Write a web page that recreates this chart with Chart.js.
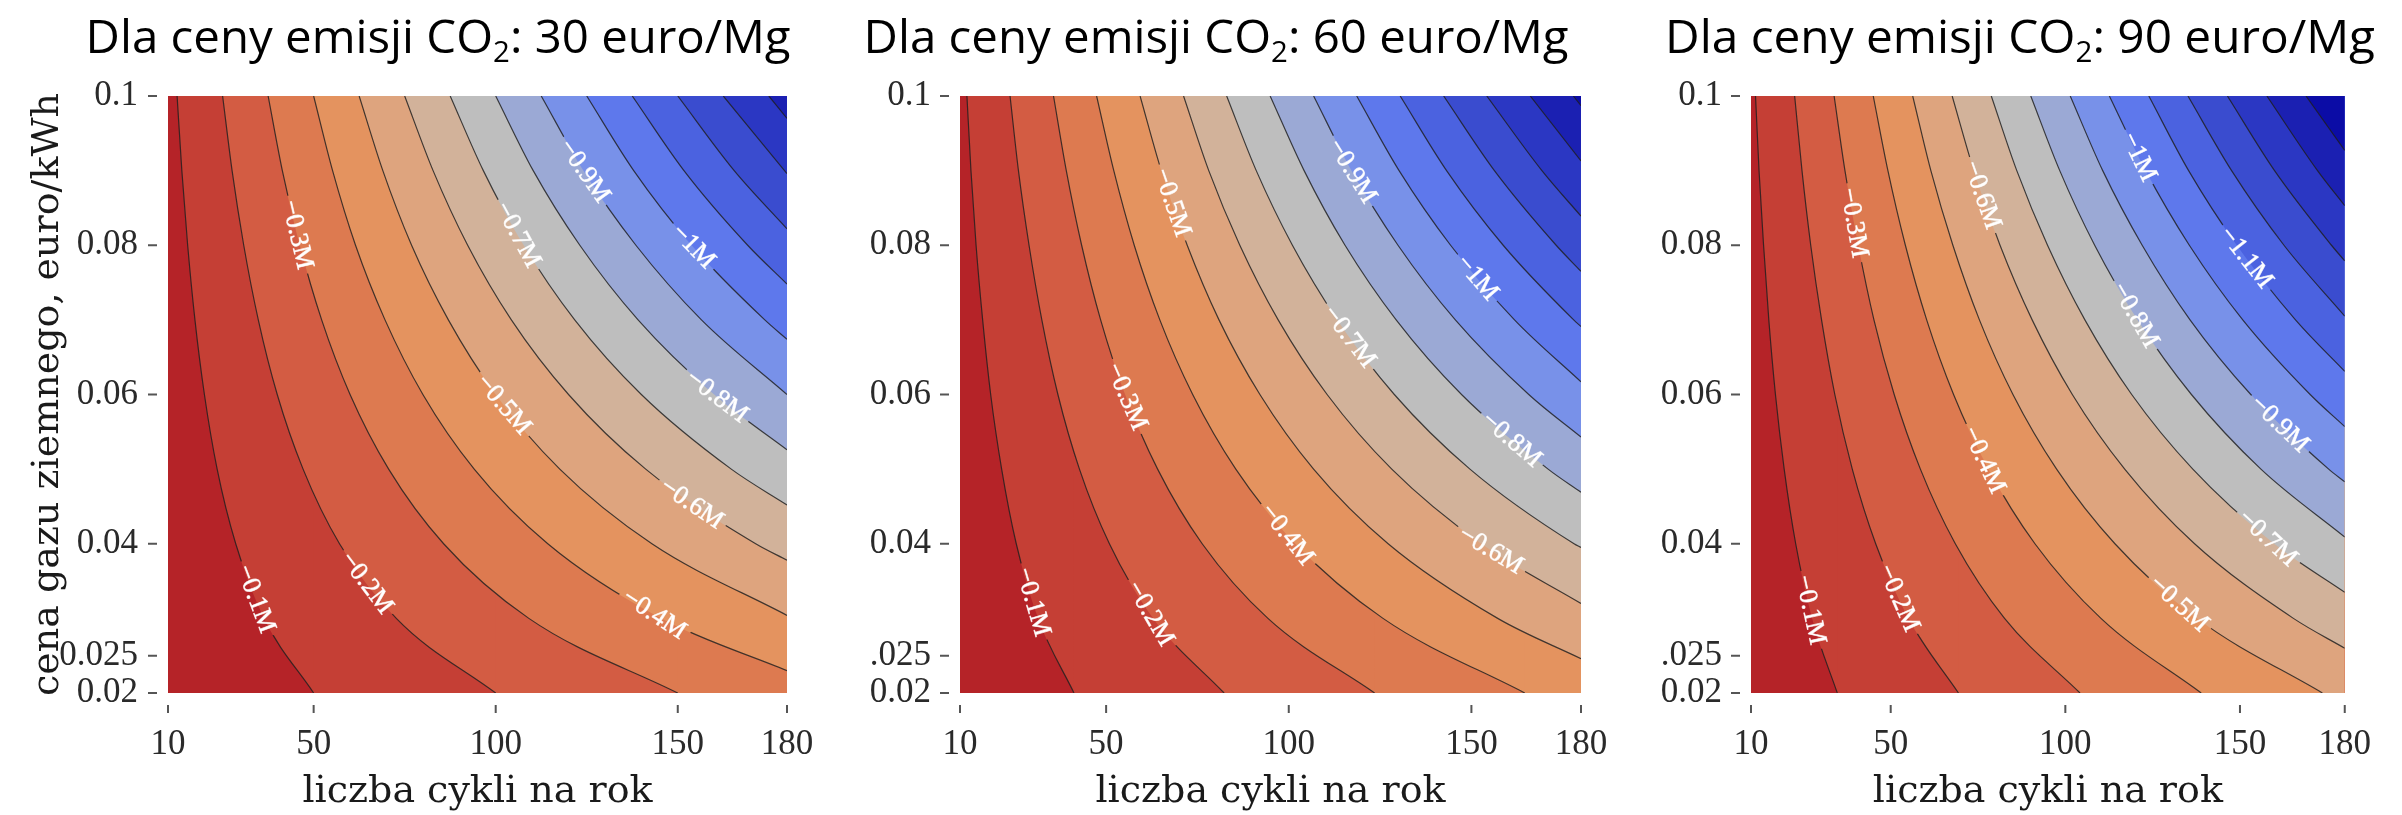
<!DOCTYPE html>
<html>
<head>
<meta charset="utf-8">
<script src="https://cdn.jsdelivr.net/npm/chart.js@4.4.1/dist/chart.umd.min.js"></script>
<style>
  html, body { margin: 0; padding: 0; background: #fff; }
  body { width: 2402px; height: 815px; position: relative; overflow: hidden; }
  canvas { position: absolute; top: 0; }
  .title {
    position: absolute; top: 12px; left: 0;
    font-family: 'Open Sans', sans-serif; font-size: 46px; line-height: 46px;
    color: #000; white-space: nowrap; transform-origin: 50% 0;
  }
  .title sub { font-size: 0.62em; vertical-align: -0.32em; line-height: 0; }
</style>
</head>
<body>
<canvas id="c30" width="869" height="815" style="left:0px"></canvas>
<canvas id="c60" width="792" height="815" style="left:869px"></canvas>
<canvas id="c90" width="741" height="815" style="left:1661px"></canvas>
<div class="title" id="t30">Dla ceny emisji CO<sub>2</sub>: 30 euro/Mg</div>
<div class="title" id="t60">Dla ceny emisji CO<sub>2</sub>: 60 euro/Mg</div>
<div class="title" id="t90">Dla ceny emisji CO<sub>2</sub>: 90 euro/Mg</div>

<script>
// axes
const xTicks = [10, 50, 100, 150, 180];
const yTicks = [0.1, 0.08, 0.06, 0.04, 0.025, 0.02];
const yTickLabels = ['0.1', '0.08', '0.06', '0.04', '0.025', '0.02'];

// gas price rows where the contour crossings were read
const priceRows = [0.1, 0.09, 0.08, 0.07, 0.06, 0.05, 0.04, 0.03, 0.02];

// contour levels (million euro), one line per level
const levels = [-0.1, -0.2, -0.3, -0.4, -0.5, -0.6, -0.7, -0.8, -0.9, -1.0, -1.1, -1.2, -1.3, -1.4, -1.5];

// CO2 30 euro/Mg: cycles where each contour crosses each price row (null = outside)
const cycles30 = [
  [12.5, 13.8, 15.4, 17.4, 20.0, 23.5, 28.6, 36.4, 50.0],
  [25.0, 27.6, 30.8, 34.8, 40.0, 47.1, 57.1, 72.7, 100.0],
  [37.5, 41.4, 46.2, 52.2, 60.0, 70.6, 85.7, 109.1, 150.0],
  [50.0, 55.2, 61.5, 69.6, 80.0, 94.1, 114.3, 145.5, null],
  [62.5, 69.0, 76.9, 87.0, 100.0, 117.6, 142.9, null, null],
  [75.0, 82.8, 92.3, 104.3, 120.0, 141.2, 171.4, null, null],
  [87.5, 96.6, 107.7, 121.7, 140.0, 164.7, null, null, null],
  [100.0, 110.3, 123.1, 139.1, 160.0, null, null, null, null],
  [112.5, 124.1, 138.5, 156.5, null, null, null, null, null],
  [125.0, 137.9, 153.8, 173.9, null, null, null, null, null],
  [137.5, 151.7, 169.2, null, null, null, null, null, null],
  [150.0, 165.5, null, null, null, null, null, null, null],
  [162.5, null, null, null, null, null, null, null, null],
  [175.0, null, null, null, null, null, null, null, null]
];
// gas price where the contour leaves through the right edge (180 cycles)
const edge30 = [null, null, null, 0.0230, 0.0304, 0.0378, 0.0452, 0.0526, 0.0600, 0.0674, 0.0748, 0.0822, 0.0896, 0.0970];

// CO2 60 euro/Mg
const cycles60 = [
  [11.9, 13.0, 14.4, 16.2, 18.4, 21.4, 25.4, 31.4, 41.2],
  [23.7, 26.0, 28.9, 32.4, 36.8, 42.7, 50.9, 62.9, 82.3],
  [35.6, 39.1, 43.3, 48.5, 55.2, 64.1, 76.3, 94.3, 123.5],
  [47.4, 52.1, 57.7, 64.7, 73.7, 85.5, 101.8, 125.8, 164.6],
  [59.3, 65.1, 72.2, 80.9, 92.1, 106.8, 127.2, 157.2, null],
  [71.2, 78.1, 86.6, 97.1, 110.5, 128.2, 152.7, null, null],
  [83.0, 91.1, 101.0, 113.3, 128.9, 149.6, 178.1, null, null],
  [94.9, 104.2, 115.4, 129.4, 147.3, 171.0, null, null, null],
  [106.8, 117.2, 129.9, 145.6, 165.7, null, null, null, null],
  [118.6, 130.2, 144.3, 161.8, null, null, null, null, null],
  [130.5, 143.2, 158.7, 178.0, null, null, null, null, null],
  [142.4, 156.3, 173.2, null, null, null, null, null, null],
  [154.2, 169.3, null, null, null, null, null, null, null],
  [166.1, null, null, null, null, null, null, null, null],
  [177.9, null, null, null, null, null, null, null, null]
];
const edge60 = [null, null, null, null, 0.0246, 0.0320, 0.0395, 0.0469, 0.0543, 0.0617, 0.0691, 0.0765, 0.0839, 0.0913, 0.0987];

// CO2 90 euro/Mg
const cycles90 = [
  [11.3, 12.3, 13.6, 15.1, 17.0, 19.5, 22.8, 27.5, 34.7],
  [22.5, 24.6, 27.1, 30.2, 34.0, 39.0, 45.7, 55.1, 69.4],
  [33.8, 36.9, 40.7, 45.2, 51.0, 58.5, 68.5, 82.6, 104.2],
  [45.0, 49.2, 54.2, 60.3, 68.0, 78.0, 91.3, 110.2, 138.9],
  [56.3, 61.5, 67.8, 75.4, 85.0, 97.5, 114.2, 137.7, 173.6],
  [67.6, 73.8, 81.3, 90.5, 102.0, 117.0, 137.0, 165.3, null],
  [78.8, 86.1, 94.9, 105.6, 119.0, 136.5, 159.8, null, null],
  [90.1, 98.4, 108.4, 120.7, 136.1, 156.0, null, null, null],
  [101.4, 110.7, 122.0, 135.7, 153.1, 175.4, null, null, null],
  [112.6, 123.0, 135.5, 150.8, 170.1, null, null, null, null],
  [123.9, 135.3, 149.1, 165.9, null, null, null, null, null],
  [135.1, 147.6, 162.6, null, null, null, null, null, null],
  [146.4, 159.9, 176.2, null, null, null, null, null, null],
  [157.7, 172.2, null, null, null, null, null, null, null],
  [168.9, null, null, null, null, null, null, null, null]
];
const edge90 = [null, null, null, null, null, 0.0260, 0.0335, 0.0409, 0.0483, 0.0557, 0.0631, 0.0705, 0.0779, 0.0853, 0.0927];

// inline contour labels: text, position (cycles, price); label i sits on contour i
const labelText = ['−0.1M', '−0.2M', '−0.3M', '−0.4M', '−0.5M', '−0.6M', '−0.7M', '−0.8M', '−0.9M', '−1M', '−1.1M'];
const labelCycles30 = [34.0, 64.5, 45.4, 143.5, 102.1, 153.8, 106.0, 160.7, 124.3, 154.2];
const labelPrice30 = [0.0326, 0.0347, 0.0814, 0.0305, 0.0586, 0.0453, 0.0814, 0.0597, 0.0899, 0.0798];
const labelCycles60 = [29.9, 62.0, 55.5, 99.5, 68.0, 155.3, 116.5, 160.9, 117.3, 151.5];
const labelPrice60 = [0.0322, 0.0306, 0.0597, 0.0412, 0.0857, 0.0391, 0.0677, 0.0539, 0.0899, 0.0756];
const labelCycles90 = [26.9, 52.2, 39.4, 76.6, 132.5, 76.1, 157.9, 119.9, 161.3, 121.0, 151.7];
const labelPrice90 = [0.0311, 0.0327, 0.083, 0.0512, 0.0319, 0.0867, 0.0407, 0.0706, 0.056, 0.0918, 0.0783];

// band colours: band k lies between level -0.1k and -0.1(k+1)
const bandColors = ['#B52328', '#C53F35', '#D35C43', '#DD7A50', '#E4935F', '#DEA47E', '#D2B29A', '#BEBEBE',
                    '#9BA9D5', '#7891E9', '#5E78EC', '#4B62E0', '#3A4CCF', '#2B37C3', '#1B20B2', '#0B0CA6'];

const tickFont = { family: 'Liberation Serif', size: 35 };
const axisTitleFont = { family: 'DejaVu Serif', size: 38 };
const labelFont = '26px "Liberation Serif"';
const lineColor = 'rgba(30,30,30,0.82)';

function contourPoints(row, edge) {
  const pts = [];
  row.forEach((n, j) => { if (n !== null) pts.push({ x: n, y: priceRows[j] }); });
  if (edge !== null) pts.push({ x: 180, y: edge });
  return pts;
}

function buildDatasets(cycles, edges) {
  const sets = [];
  cycles.forEach((row, k) => {
    const pts = contourPoints(row, edges[k]);
    const color = bandColors[k + 1];
    // band fill: everything above/right of this contour
    sets.push({ data: pts, fill: 'end', backgroundColor: color, borderColor: color, borderWidth: 0,
                pointRadius: 0, cubicInterpolationMode: 'monotone', order: 1000 - k });
    if (edges[k] === null) {
      const last = pts[pts.length - 1];
      sets.push({ data: [{ x: last.x - 0.3, y: last.y }, { x: 180, y: last.y }], fill: 'end',
                  backgroundColor: color, borderColor: color, borderWidth: 0, pointRadius: 0,
                  tension: 0, order: 1000 - k });
    }
    // contour line
    sets.push({ data: pts, fill: false, borderColor: lineColor, borderWidth: 1.2, pointRadius: 0,
                cubicInterpolationMode: 'monotone', order: 0, contourIndex: k });
  });
  return sets;
}

function contourPlugin(cycles, edges, labCycles, labPrices) {
  let clipped = false;

  function geometry(chart, i) {
    const xs = chart.scales.x, ys = chart.scales.y;
    const pts = contourPoints(cycles[i], edges[i]);
    const p = labPrices[i];
    let a = pts[0], b = pts[1] || pts[0];
    for (let j = 0; j < pts.length - 1; j++) {
      if (pts[j].y >= p && pts[j + 1].y <= p) { a = pts[j]; b = pts[j + 1]; break; }
    }
    const dx = xs.getPixelForValue(b.x) - xs.getPixelForValue(a.x);
    const dy = ys.getPixelForValue(b.y) - ys.getPixelForValue(a.y);
    return { x: xs.getPixelForValue(labCycles[i]), y: ys.getPixelForValue(p), angle: Math.atan2(dy, dx) };
  }

  return {
    id: 'contours',
    beforeDatasetsDraw(chart) {
      const { ctx, chartArea: a } = chart;
      ctx.save();
      ctx.fillStyle = bandColors[0];
      ctx.fillRect(a.left, a.top, a.right - a.left, a.bottom - a.top);
      ctx.restore();
    },
    beforeDatasetDraw(chart, args) {
      const ds = chart.data.datasets[args.index];
      const k = ds.contourIndex;
      if (k === undefined || k >= labCycles.length) return;
      const ctx = chart.ctx;
      const g = geometry(chart, k);
      ctx.save();
      ctx.font = labelFont;
      const w = ctx.measureText(labelText[k]).width / 2 + 5, h = 12;
      const c = Math.cos(g.angle), s = Math.sin(g.angle);
      const corners = [[-w, -h], [w, -h], [w, h], [-w, h]].map(([u, v]) => [g.x + u * c - v * s, g.y + u * s + v * c]);
      ctx.beginPath();
      ctx.rect(0, 0, chart.width, chart.height);
      ctx.moveTo(corners[0][0], corners[0][1]);
      for (let j = 1; j < 4; j++) ctx.lineTo(corners[j][0], corners[j][1]);
      ctx.closePath();
      ctx.clip('evenodd');
      clipped = true;
    },
    afterDatasetDraw(chart) {
      if (clipped) { chart.ctx.restore(); clipped = false; }
    },
    afterDatasetsDraw(chart) {
      const ctx = chart.ctx;
      labCycles.forEach((n, i) => {
        const g = geometry(chart, i);
        ctx.save();
        ctx.translate(g.x, g.y);
        ctx.rotate(g.angle);
        ctx.font = labelFont;
        ctx.fillStyle = '#ffffff';
        ctx.strokeStyle = 'rgba(255,255,255,0.7)';
        ctx.lineWidth = 0.8;
        ctx.textAlign = 'center';
        ctx.textBaseline = 'middle';
        ctx.fillText(labelText[i], 0, 0);
        ctx.strokeText(labelText[i], 0, 0);
        ctx.restore();
      });
    },
    afterDraw(chart) {
      // short tick marks, detached from the plot area
      const { ctx, chartArea: a, scales: { x, y } } = chart;
      ctx.save();
      ctx.strokeStyle = '#555';
      ctx.lineWidth = 2;
      ctx.beginPath();
      yTicks.forEach(v => {
        const py = y.getPixelForValue(v);
        ctx.moveTo(a.left - 20, py); ctx.lineTo(a.left - 11, py);
      });
      xTicks.forEach(v => {
        const px = x.getPixelForValue(v);
        ctx.moveTo(px, a.bottom + 12); ctx.lineTo(px, a.bottom + 20);
      });
      ctx.stroke();
      ctx.restore();
    }
  };
}

function makeChart(id, cycles, edges, labCycles, labPrices, leftWidth, rightPad, labelGap, showYTitle) {
  return new Chart(document.getElementById(id), {
    type: 'line',
    data: { datasets: buildDatasets(cycles, edges) },
    options: {
      responsive: false,
      animation: false,
      devicePixelRatio: 1,
      layout: { padding: { top: 96, right: rightPad, bottom: 0, left: 0 } },
      plugins: { legend: { display: false }, tooltip: { enabled: false } },
      scales: {
        x: {
          type: 'linear', min: 10, max: 180,
          grid: { display: false, drawTicks: false },
          border: { display: false },
          afterBuildTicks: axis => { axis.ticks = xTicks.map(v => ({ value: v })); },
          afterFit: axis => { axis.height = 122; },
          ticks: { padding: 31, autoSkip: false, maxRotation: 0, color: '#2a2a2a', font: tickFont },
          title: { display: true, text: 'liczba cykli na rok', color: '#1a1a1a', font: axisTitleFont,
                   padding: { top: 0, bottom: 0 } }
        },
        y: {
          type: 'linear', min: 0.02, max: 0.1,
          grid: { display: false, drawTicks: false },
          border: { display: false },
          afterBuildTicks: axis => { axis.ticks = yTicks.map(v => ({ value: v })); },
          afterFit: axis => { axis.width = leftWidth; },
          ticks: { padding: labelGap, autoSkip: false, color: '#2a2a2a', font: tickFont,
                   callback: v => yTickLabels[yTicks.indexOf(v)] },
          title: { display: showYTitle, text: 'cena gazu ziemnego, euro/kWh', color: '#1a1a1a',
                   font: axisTitleFont, padding: { top: 25, bottom: 0 } }
        }
      }
    },
    plugins: [contourPlugin(cycles, edges, labCycles, labPrices)]
  });
}

makeChart('c30', cycles30, edge30, labelCycles30, labelPrice30, 168, 82, 30, true);
makeChart('c60', cycles60, edge60, labelCycles60, labelPrice60, 91, 80, 29, false);
makeChart('c90', cycles90, edge90, labelCycles90, labelPrice90, 90, 31, 29, false);

// panel titles, centred above each panel
function placeTitle(id, centerX, targetWidth) {
  const el = document.getElementById(id);
  const w = el.getBoundingClientRect().width;
  el.style.left = (centerX - w / 2) + 'px';
  el.style.transform = 'scaleX(' + (targetWidth / w) + ')';
}
placeTitle('t30', 438, 705);
placeTitle('t60', 1216, 705);
placeTitle('t90', 2020, 710);
</script>
</body>
</html>
